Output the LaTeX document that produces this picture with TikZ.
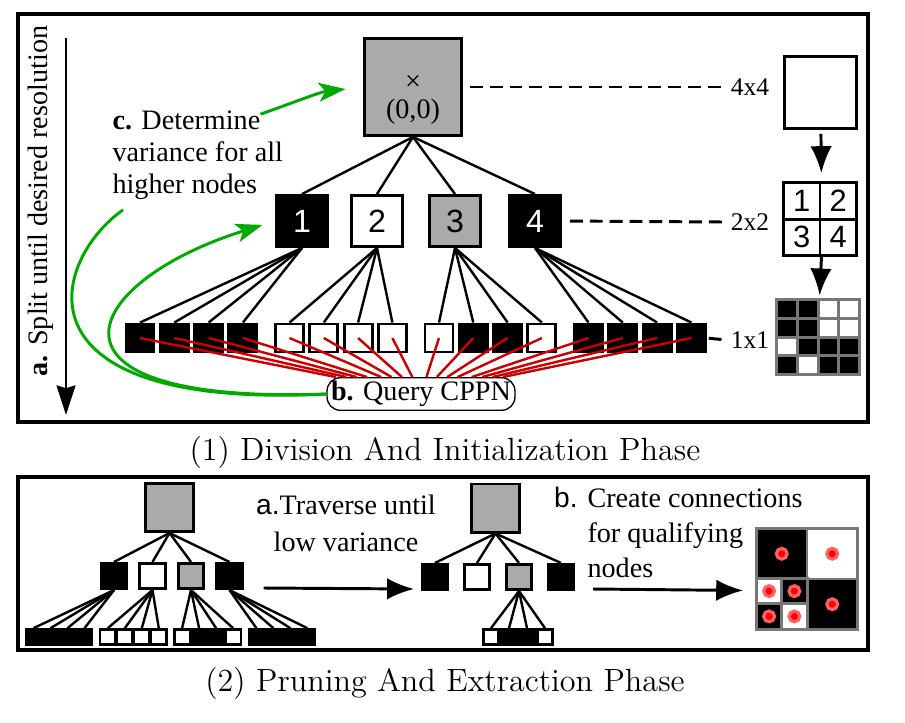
\documentclass[tikz,border=0pt]{standalone}
\usepackage{fontspec}
\newfontfamily\tms{Liberation Serif}
\newfontfamily\hlv{Liberation Sans}
\usetikzlibrary{arrows.meta}
\definecolor{boxgray}{HTML}{AAAAAA}
\definecolor{gridgray}{HTML}{777777}
\definecolor{qgreen}{HTML}{00AA00}
\definecolor{qred}{HTML}{CC0000}
\definecolor{dotrim}{HTML}{FF6060}
\tikzset{
  sq/.style={draw,line width=1.1pt,inner sep=0,minimum size=#1},
  sleaf/.style={draw,line width=.9pt,inner sep=0,minimum size=.2cm},
  cellbox/.style={draw=gridgray,line width=1.1pt,inner sep=0},
  link/.style={line width=.9pt},
  dashline/.style={line width=1.1pt,dash pattern=on 4.8pt off 2.6pt},
  outerframe/.style={line width=1.3pt},
  arr/.style={line width=1.1pt,-{Latex[length=10pt,width=8pt]}},
  garr/.style={qgreen,line width=1.1pt,-{Stealth[length=10pt,width=7pt,inset=2.5pt]}},
  txt/.style={inner sep=0,font=\tms\fontsize{10.5}{12}\selectfont},
  qdot/.style={circle,fill=red,draw=dotrim,line width=1.2pt,inner sep=0,minimum size=4pt},
}
\begin{document}
\begin{tikzpicture}[x=0.0131cm,y=-0.0131cm]
\useasboundingbox (0,0) rectangle (905,722);
\draw[outerframe] (18,14) rectangle (868,422);
\draw[outerframe] (18,477) rectangle (868,650);
\node[font=\fontsize{12}{14}\selectfont] (cap1) at (445,452) {(1) Division And Initialization Phase};
\node[font=\fontsize{12}{14}\selectfont] (cap2) at (445,683) {(2) Pruning And Extraction Phase};

% division tree
\node[sq=1.27cm,fill=boxgray] (root) at (413,87) {};
\node[txt] (rootx) at (413,83) {×};
\node[txt] (rootxy) at (413,112) {(0,0)};
\foreach \n/\x/\c/\t in {1/302/black/white,2/377/white/black,3/455/boxgray/black,4/535/black/white}{
    \node[sq=.668cm,fill=\c,text=\t,font=\hlv\fontsize{12}{14}\selectfont] (ch\n) at (\x,221) {\n};
    \draw[link] (root.south) -- (ch\n.north);
}
\foreach \f [count=\n] in {black,black,black,black,white,white,white,white,white,black,black,white,black,black,black,black}{
    \pgfmathtruncatemacro\g{(\n-1)/4}
    \pgfmathtruncatemacro\i{mod(\n-1,4)}
    \pgfmathtruncatemacro\p{\g+1}
    \node[sq=.367cm,fill=\f] (l\n) at ({140+149.5*\g+34.3*\i},338) {};
    \draw[link] (ch\p.south) -- (l\n.north);
}
\node[txt,draw,fill=white,rounded corners=5pt,line width=.5pt,inner xsep=1.5pt,inner ysep=1.3pt] (cppn) at (421,394) {\textbf{b.} Query CPPN};
\foreach \n in {1,...,16}{
    \draw[qred,line width=.9pt] (l\n.center) -- (cppn);
}

% resolution labels
\foreach \n/\y/\t in {lab4/87/4x4,lab2/222/2x2,lab1/340/1x1}{
    \node[txt,inner sep=1.5pt,font=\tms\fontsize{9.5}{11}\selectfont] (\n) at (750,\y) {\t};
}
\draw[dashline,shorten <=2.6pt] (root.east) -- (lab4.west);
\draw[dashline,shorten <=3pt] (ch4.east) -- (lab2.west);
\draw[dashline,shorten <=.7pt] (l16.east) -- (lab1.west);

\node[sq=.943cm] (t4) at (820.5,92.5) {};
\foreach \n/\x/\y in {1/801.75/200.75,2/838.25/200.75,3/801.75/237.25,4/838.25/237.25}{
    \node[sq=.478cm,font=\hlv\fontsize{11.5}{13}\selectfont] (q\n) at (\x,\y) {\n};
}
\foreach \f [count=\n from 0] in {black,black,white,white,black,black,white,white,white,black,black,black,black,white,black,black}{
    \pgfmathtruncatemacro\r{\n/4}
    \pgfmathtruncatemacro\c{mod(\n,4)}
    \node[cellbox,fill=\f,minimum width=.272cm,minimum height=.246cm] (p\n) at ({786.9+20.8*\c},{308.9+18.8*\r}) {};
}
\draw[arr,shorten <=1.5pt,shorten >=3pt] (t4) -- (q1.north east);
\draw[arr,shorten >=1pt] (q3.south east) -- (p1.north east);

% split arrow and notes
\coordinate (splittop) at (66,38);
\coordinate (splitbot) at (66,415);
\draw[line width=1pt,-{Stealth[length=11pt,width=7pt,inset=1pt]}] (splittop) -- (splitbot);
\node[txt,rotate=90] (split) at (41,201) {\textbf{a.} Split until desired resolution};
\node[txt,font=\tms\fontsize{10.5}{11.9}\selectfont,align=left,anchor=west] (det) at (112,155) {\textbf{c.} Determine\\variance for all\\higher nodes};
\draw[garr,shorten >=4.9pt] (cppn.west) .. controls (20,405) and (80,282) .. (ch1.west);
\draw[qgreen,line width=1.1pt] (cppn.west) .. controls (10,410) and (50,262) .. ([shift={(11,10)}]det.south west);
\draw[garr,shorten >=6.6pt] ([shift={(-23,4)}]det.north east) .. controls (295,102) and (320,92) .. (root.west);

% pruning, full tree
\node[sq=.63cm,fill=boxgray] (broot) at (169.5,507.5) {};
\foreach \n/\c in {1/black,2/white,3/boxgray,4/black}{
    \node[sq=.33cm,fill=\c] (bc\n) at ({114+38.5*(\n-1)},576) {};
    \draw[link] (broot.south) -- (bc\n.north);
}
\foreach \f [count=\n] in {black,black,black,black,white,white,white,white,white,black,black,white,black,black,black,black}{
    \pgfmathtruncatemacro\g{(\n-1)/4}
    \pgfmathtruncatemacro\i{mod(\n-1,4)}
    \pgfmathtruncatemacro\p{\g+1}
    \node[sleaf,fill=\f] (bl\n) at ({33.5+74.3*\g+17*\i},637) {};
    \draw[link] (bc\p.south) -- (bl\n.north);
}

% pruned tree
\node[sq=.63cm,fill=boxgray] (mroot) at (495.5,508) {};
\foreach \n/\c in {1/black,2/white,3/boxgray,4/black}{
    \node[sq=.33cm,fill=\c] (mc\n) at ({435+42*(\n-1)},577) {};
    \draw[link] (mroot.south) -- (mc\n.north);
}
\foreach \f [count=\n] in {white,black,black,white}{
    \node[sleaf,fill=\f] (ml\n) at ({473+18*\n},637) {};
    \draw[link] (mc3.south) -- (ml\n.north);
}

% extracted connections
\foreach \n/\x/\y/\s/\f in {f1/781.75/553.75/.662cm/black,f2/832.25/553.75/.662cm/white,f4/832.25/604.25/.662cm/black,s1/769.1/591.1/.331cm/white,s2/794.4/591.1/.331cm/black,s3/769.1/616.4/.331cm/black,s4/794.4/616.4/.331cm/white}{
    \node[cellbox,fill=\f,minimum size=\s] (\n) at (\x,\y) {};
    \node[qdot] (d\n) at (\n) {};
}

\node[txt,align=center,font=\tms\fontsize{10.5}{13.8}\selectfont] (trav) at (346,523) {{\hlv a.}Traverse until\\low variance};
\draw[arr] ([shift={(20,12)}]bc4.east) -- ([shift={(-7,12)}]mc1.west);
\node[txt,align=left,anchor=north west,font=\tms\fontsize{10.5}{12.9}\selectfont] (conn) at (587,487) {\llap{\hlv b.\hspace{3.7pt}}Create connections\\for qualifying\\nodes};
\draw[arr] ([shift={(18,12)}]mc4.east) -- ([shift={(-12,10)}]f1.south west);
\end{tikzpicture}
\end{document}
